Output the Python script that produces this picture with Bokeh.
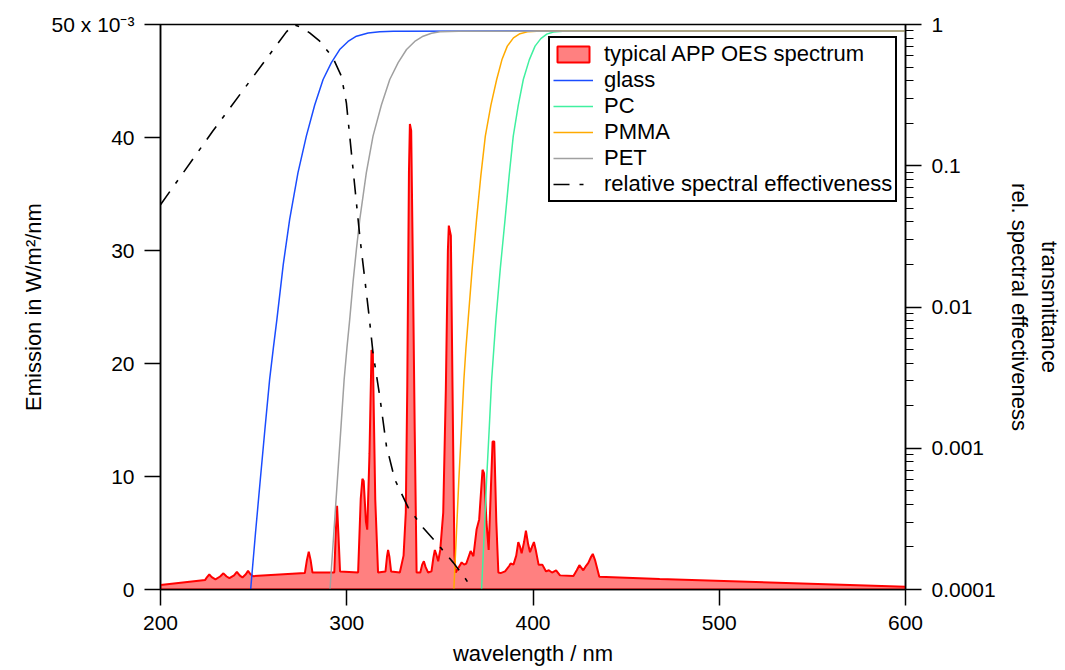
from bokeh.plotting import figure
from bokeh.models import (Range1d, LogScale, LogAxis, FixedTicker, Legend, LegendItem)
from bokeh.embed import file_html
from bokeh.resources import INLINE

# ---------------- data ----------------
# typical APP OES spectrum (emission in 1e-3 W/m^2/nm)
spec_wl = [200, 224, 225, 226.2, 227.5, 229.5, 232, 233.8, 235.5, 237, 239.5, 241, 242.5, 244,
           245.8, 247, 248.3, 249.7, 277.5, 278.6, 279.6, 280.6, 281.6, 293.3, 294.1, 294.8,
           295.5, 296.4, 306.1, 307.5, 308.4, 309.1, 310.3, 311.0, 312.2, 313.3, 314.0, 315.3,
           316.8, 320.8, 321.6, 322.2, 322.9, 323.8, 328.5, 330.5, 331.7, 332.5, 333.4, 333.9,
           334.6, 335.4, 336.5, 337.5, 339.5, 340.5, 341.4, 342.3, 343.7, 345.5, 346.5, 347.3,
           348.1, 349.1, 350.2, 351.8, 353.2, 354.3, 354.8, 355.9, 356.8, 357.8, 358.5, 359.9,
           361.7, 363.0, 364.2, 366.5, 368.0, 369.7, 371.1, 372.9, 373.7, 375.0, 376.2, 377.4,
           378.3, 379.2, 380.3, 381.4, 382.6, 385.0, 387.3, 388.0, 389.5, 391.0, 392.1, 393.0,
           393.9, 395.2, 396.2, 397.4, 398.4, 399.5, 400.5, 401.6, 403.0, 405.0, 407.0, 408.5,
           410.2, 412.4, 414.5, 421.7, 423.5, 424.9, 427.0, 428.5, 429.7, 431.2, 432.1, 433.3,
           435.6, 468.0, 600.0]
emission = [0.40, 0.85, 1.10, 1.33, 1.10, 0.90, 1.15, 1.43, 1.15, 1.00, 1.25, 1.56, 1.25, 1.06,
            1.35, 1.65, 1.35, 1.18, 1.45, 2.6, 3.35, 2.6, 1.5, 1.5, 5.0, 7.4,
            5.0, 1.6, 1.5, 8.0, 9.8, 9.6, 6.0, 5.3, 12.0, 21.2, 20.9, 8.0,
            1.5, 1.6, 2.9, 3.5, 2.9, 1.6, 1.5, 3.0, 6.8, 18.0, 37.0, 41.2,
            40.6, 30.0, 14.0, 1.5, 1.5, 2.2, 2.5, 2.0, 1.5, 1.6, 2.8, 3.5,
            3.1, 2.5, 3.5, 6.8, 17.7, 30.0, 32.2, 31.3, 17.7, 3.0, 1.5, 1.9,
            2.4, 2.2, 2.3, 3.4, 2.95, 5.3, 6.2, 10.6, 10.3, 6.0, 3.5, 9.0,
            13.1, 13.1, 6.0, 1.5, 1.45, 1.6, 2.1, 2.3, 2.2, 3.0, 4.2, 3.8,
            3.2, 4.2, 5.2, 4.0, 3.3, 3.8, 4.2, 3.4, 2.2, 2.2, 1.6, 1.7,
            1.5, 1.7, 1.25, 1.20, 1.7, 2.15, 1.7, 2.1, 2.35, 2.9, 3.15, 2.6,
            1.12, 0.93, 0.25]

# transmittance curves
glass_wl = [248.4, 251.0, 253.6, 256.1, 258.6, 260.6, 262.5, 265.9, 269.35, 273.8, 278.3, 282.8,
            287.3, 291.75, 296.2, 300.7, 305.2, 311.5, 317.7, 325.0, 600.0]
glass_t = [1.0e-4, 2.51e-4, 6.03e-4, 1.38e-3, 3.07e-3, 5.13e-3, 8.17e-3, 0.01995, 0.0417, 0.0891,
           0.162, 0.269, 0.408, 0.537, 0.665, 0.759, 0.826, 0.871, 0.889, 0.897, 0.9]

pc_wl = [372.4, 373.8, 375.1, 376.5, 377.8, 379.0, 380.1, 382.5, 385.0, 387.2, 389.4, 392.1,
         394.8, 398.0, 401.1, 404.2, 407.4, 411.0, 416.0, 600.0]
pc_t = [1.0e-4, 2.51e-4, 6.03e-4, 1.38e-3, 3.07e-3, 5.13e-3, 8.17e-3, 0.0191, 0.0417, 0.0851,
        0.162, 0.269, 0.408, 0.562, 0.703, 0.794, 0.855, 0.885, 0.897, 0.9]

pmma_wl = [357.5, 358.9, 360.2, 361.6, 362.9, 364.0, 365.2, 367.4, 369.7, 372.0, 374.4, 377.4,
           380.5, 383.3, 386.2, 389.5, 393.0, 397.0, 402.0, 600.0]
pmma_t = [1.0e-4, 2.51e-4, 6.03e-4, 1.38e-3, 3.07e-3, 5.13e-3, 8.17e-3, 0.0191, 0.0417, 0.0851,
          0.162, 0.269, 0.408, 0.562, 0.703, 0.804, 0.861, 0.887, 0.897, 0.9]

pet_wl = [291.0, 293.0, 295.0, 296.8, 298.6, 300.1, 301.6, 303.4, 305.2, 307.0, 310.5, 314.1,
          318.6, 323.1, 327.6, 332.1, 336.5, 341.0, 345.5, 350.0, 360.0, 600.0]
pet_t = [1.0e-4, 2.45e-4, 6.03e-4, 1.35e-3, 3.07e-3, 5.13e-3, 8.17e-3, 0.0151, 0.0257, 0.0417,
         0.0891, 0.162, 0.269, 0.408, 0.537, 0.665, 0.759, 0.826, 0.867, 0.889, 0.897, 0.9]

# relative spectral effectiveness
eff_wl = [200, 228.1, 267.6, 271.5, 275.5, 280.1, 285.5, 292.6, 297.1, 299.8, 301.6, 304.3, 307.0,
          309.7, 312.0, 314.1, 317.7, 321.3, 325.8, 333.0, 341.0, 348.2, 357.2, 363.4, 367.6]
eff_val = [0.053, 0.176, 0.887, 1.0, 0.955, 0.873, 0.762, 0.581, 0.431, 0.279, 0.162, 0.0716, 0.0316,
           0.0157, 0.0086, 0.00474, 0.00234, 0.00104, 0.000601, 0.00038, 0.000274, 0.000214,
           0.000155, 0.000121, 0.0001]

x_ticks = [200, 300, 400, 500, 600]
left_ticks = [0, 10, 20, 30, 40, 50]
left_labels = {50: "50 x 10\u207b\u00b3"}
right_ticks = [0.0001, 0.001, 0.01, 0.1, 1]
right_labels = {0.0001: "0.0001", 0.001: "0.001", 0.01: "0.01", 0.1: "0.1", 1: "1"}

# ---------------- figure ----------------
FONT = "Liberation Sans"
FS_TICK = "21px"
FS_LAB = "22px"

p = figure(width=1064, height=668, output_backend="svg", toolbar_location=None,
           x_range=Range1d(200, 600), y_range=Range1d(0, 50),
           min_border_left=160, min_border_right=158, min_border_top=24, min_border_bottom=77,
           background_fill_color="white", border_fill_color="white")
p.grid.visible = False
p.outline_line_color = "black"
p.outline_line_width = 1.5
p.extra_y_ranges = {"log": Range1d(1e-4, 1)}
p.extra_y_scales = {"log": LogScale()}

# spectrum
px_ = spec_wl + [spec_wl[-1], spec_wl[0]]
py_ = emission + [0, 0]
spec_r = p.patch(px_, py_, fill_color="#ff8080", line_color="#ff0000", line_width=2)

# transmittance
glass_r = p.line(glass_wl, glass_t, y_range_name="log", line_color="#1a4cff", line_width=1.5)
pc_r = p.line(pc_wl, pc_t, y_range_name="log", line_color="#40f0a0", line_width=1.5)
pmma_r = p.line(pmma_wl, pmma_t, y_range_name="log", line_color="#ffaa00", line_width=1.5)
pet_r = p.line(pet_wl, pet_t, y_range_name="log", line_color="#a0a0a0", line_width=1.5)
eff_r = p.line(eff_wl, eff_val, y_range_name="log", line_color="black", line_width=1.6,
               line_dash="16 10 4 10")


def style_axis(ax):
    ax.axis_line_width = 1.5
    ax.axis_line_color = "black"
    ax.major_tick_line_width = 1.5
    ax.minor_tick_line_width = 1.2
    ax.major_tick_out = 16
    ax.major_tick_in = 0
    ax.minor_tick_out = 8
    ax.minor_tick_in = 0
    ax.major_label_text_font = FONT
    ax.major_label_text_font_size = FS_TICK
    ax.major_label_text_color = "black"
    ax.major_label_standoff = 10
    ax.axis_label_text_font = FONT
    ax.axis_label_text_font_size = FS_LAB
    ax.axis_label_text_font_style = "normal"
    ax.axis_label_text_color = "black"


xa = p.xaxis[0]
xa.ticker = FixedTicker(ticks=x_ticks)
xa.axis_label = "wavelength / nm"
style_axis(xa)
xa.axis_label_standoff = 8

ya = p.yaxis[0]
ya.ticker = FixedTicker(ticks=left_ticks)
ya.major_label_overrides = left_labels
ya.axis_label = "Emission in W/m\u00b2/nm"
style_axis(ya)
ya.axis_label_standoff = 3

minor = [m * 10.0 ** e for e in range(-4, 0) for m in range(2, 10)]
ra = LogAxis(y_range_name="log", ticker=FixedTicker(ticks=right_ticks, minor_ticks=minor))
ra.major_label_overrides = right_labels
ra.axis_label = "transmittance\nrel. spectral effectiveness"
style_axis(ra)
ra.axis_label_standoff = 8
p.add_layout(ra, "right")

legend = Legend(items=[
    LegendItem(label="typical APP OES spectrum", renderers=[spec_r]),
    LegendItem(label="glass", renderers=[glass_r]),
    LegendItem(label="PC", renderers=[pc_r]),
    LegendItem(label="PMMA", renderers=[pmma_r]),
    LegendItem(label="PET", renderers=[pet_r]),
    LegendItem(label="relative spectral effectiveness", renderers=[eff_r]),
], location=(388, 387))
legend.border_line_color = "black"
legend.border_line_alpha = 1
legend.border_line_width = 2
legend.background_fill_color = "white"
legend.background_fill_alpha = 1
legend.padding = 3
legend.spacing = 0
legend.margin = 0
legend.label_standoff = 11
legend.glyph_width = 40
legend.glyph_height = 20
legend.label_height = 20
legend.label_text_font = FONT
legend.label_text_font_size = FS_LAB
legend.label_text_color = "black"
p.add_layout(legend)

open("out.html", "w").write(file_html(p, INLINE))
